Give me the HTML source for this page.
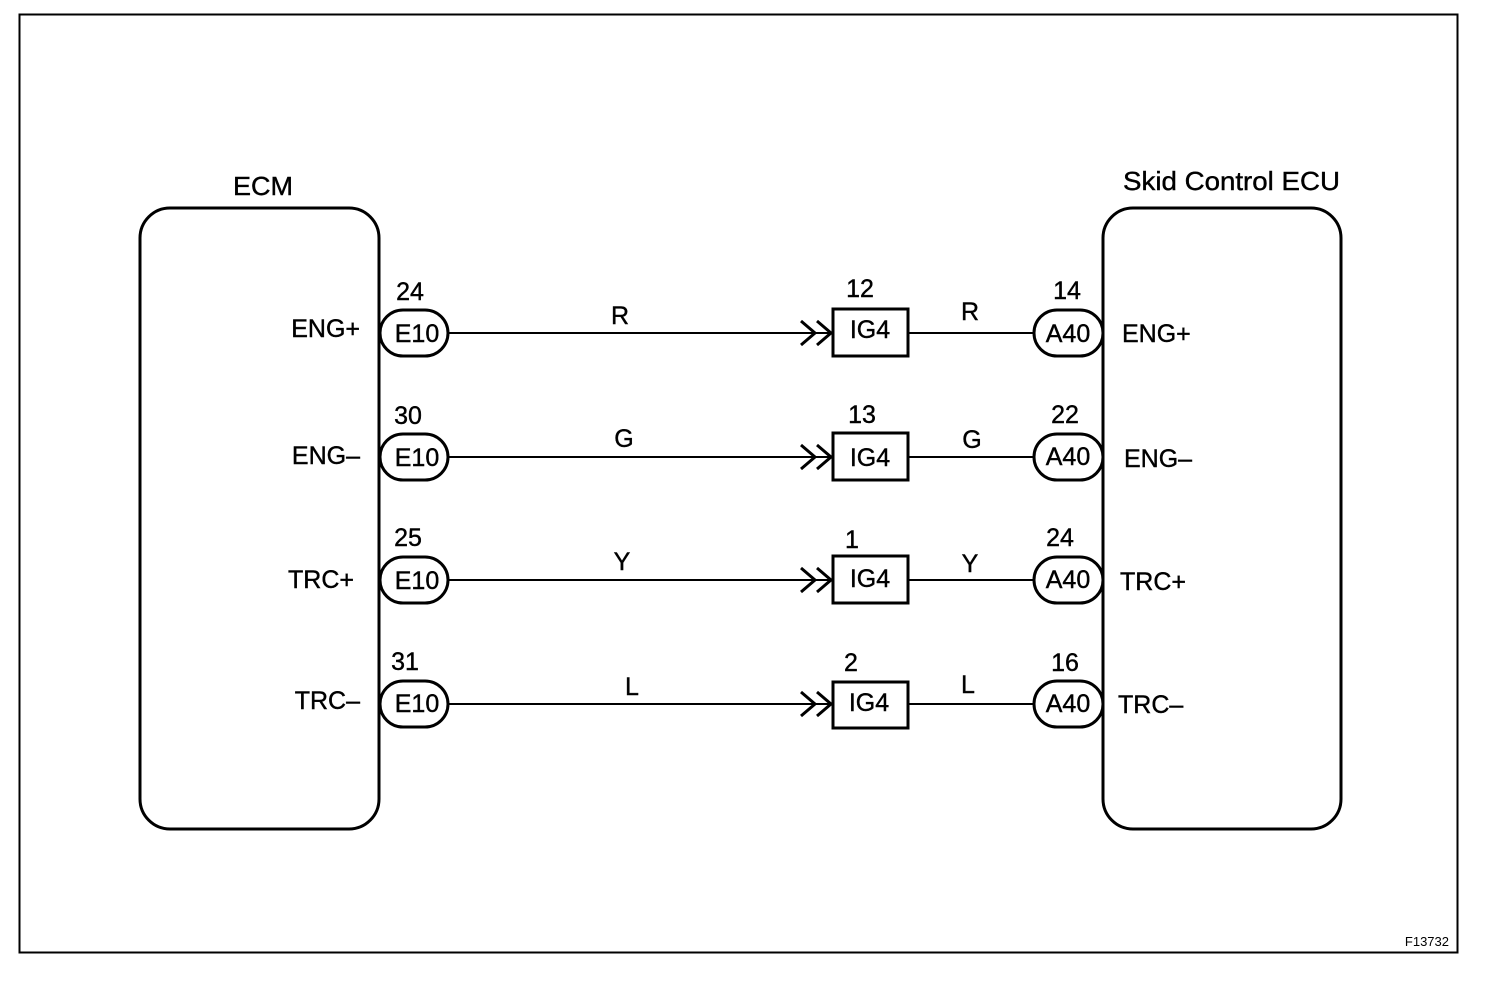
<!DOCTYPE html>
<html><head><style>
html,body{margin:0;padding:0;background:#fff;}
svg{display:block;}
text{font-family:"Liberation Sans",Arial,sans-serif;fill:#000;stroke:#000;stroke-width:0.4;}
</style></head><body>
<svg width="1504" height="994" viewBox="0 0 1504 994" xmlns="http://www.w3.org/2000/svg">
<rect x="19.5" y="14.5" width="1438" height="938" fill="none" stroke="#000" stroke-width="2"/>
<rect x="140" y="208" width="239" height="621" rx="30" ry="30" fill="none" stroke="#000" stroke-width="3"/>
<rect x="1103" y="208" width="238" height="621" rx="30" ry="30" fill="none" stroke="#000" stroke-width="3"/>
<text x="233" y="195" font-size="26" textLength="60" lengthAdjust="spacingAndGlyphs">ECM</text>
<text x="1123" y="190" font-size="26" textLength="217" lengthAdjust="spacingAndGlyphs">Skid Control ECU</text>
<text x="1449" y="946" font-size="13" text-anchor="end" style="stroke-width:0">F13732</text>

<g font-size="25">
<g transform="translate(0,333)">
<line x1="449" y1="0" x2="830" y2="0" stroke="#000" stroke-width="2"/>
<polyline points="801,-12 815,0 801,12" fill="none" stroke="#000" stroke-width="3"/>
<polyline points="817,-12 831,0 817,12" fill="none" stroke="#000" stroke-width="3"/>
<line x1="908" y1="0" x2="1034" y2="0" stroke="#000" stroke-width="2"/>
<rect x="380" y="-23" width="68" height="46" rx="23" fill="#fff" stroke="#000" stroke-width="3"/>
<rect x="833" y="-24" width="75" height="47" fill="#fff" stroke="#000" stroke-width="3"/>
<rect x="1034" y="-23" width="69" height="46" rx="23" fill="#fff" stroke="#000" stroke-width="3"/>
<text x="417" y="9" text-anchor="middle">E10</text>
<text x="870" y="5" text-anchor="middle">IG4</text>
<text x="1068" y="9" text-anchor="middle">A40</text>
<text x="410" y="-33" text-anchor="middle">24</text>
<text x="860" y="-36" text-anchor="middle">12</text>
<text x="1067" y="-34" text-anchor="middle">14</text>
<text x="620" y="-9" text-anchor="middle">R</text>
<text x="970" y="-13" text-anchor="middle">R</text>
<text x="360" y="4" text-anchor="end">ENG+</text>
<text x="1122" y="9">ENG+</text>
</g>
<g transform="translate(0,457)">
<line x1="449" y1="0" x2="830" y2="0" stroke="#000" stroke-width="2"/>
<polyline points="801,-12 815,0 801,12" fill="none" stroke="#000" stroke-width="3"/>
<polyline points="817,-12 831,0 817,12" fill="none" stroke="#000" stroke-width="3"/>
<line x1="908" y1="0" x2="1034" y2="0" stroke="#000" stroke-width="2"/>
<rect x="380" y="-23" width="68" height="46" rx="23" fill="#fff" stroke="#000" stroke-width="3"/>
<rect x="833" y="-24" width="75" height="47" fill="#fff" stroke="#000" stroke-width="3"/>
<rect x="1034" y="-23" width="69" height="46" rx="23" fill="#fff" stroke="#000" stroke-width="3"/>
<text x="417" y="9" text-anchor="middle">E10</text>
<text x="870" y="9" text-anchor="middle">IG4</text>
<text x="1068" y="8" text-anchor="middle">A40</text>
<text x="408" y="-33" text-anchor="middle">30</text>
<text x="862" y="-34" text-anchor="middle">13</text>
<text x="1065" y="-34" text-anchor="middle">22</text>
<text x="624" y="-10" text-anchor="middle">G</text>
<text x="972" y="-9" text-anchor="middle">G</text>
<text x="360" y="7" text-anchor="end">ENG–</text>
<text x="1124" y="10">ENG–</text>
</g>
<g transform="translate(0,580)">
<line x1="449" y1="0" x2="830" y2="0" stroke="#000" stroke-width="2"/>
<polyline points="801,-12 815,0 801,12" fill="none" stroke="#000" stroke-width="3"/>
<polyline points="817,-12 831,0 817,12" fill="none" stroke="#000" stroke-width="3"/>
<line x1="908" y1="0" x2="1034" y2="0" stroke="#000" stroke-width="2"/>
<rect x="380" y="-23" width="68" height="46" rx="23" fill="#fff" stroke="#000" stroke-width="3"/>
<rect x="833" y="-24" width="75" height="47" fill="#fff" stroke="#000" stroke-width="3"/>
<rect x="1034" y="-23" width="69" height="46" rx="23" fill="#fff" stroke="#000" stroke-width="3"/>
<text x="417" y="9" text-anchor="middle">E10</text>
<text x="870" y="7" text-anchor="middle">IG4</text>
<text x="1068" y="8" text-anchor="middle">A40</text>
<text x="408" y="-34" text-anchor="middle">25</text>
<text x="852" y="-32" text-anchor="middle">1</text>
<text x="1060" y="-34" text-anchor="middle">24</text>
<text x="622" y="-10" text-anchor="middle">Y</text>
<text x="970" y="-8" text-anchor="middle">Y</text>
<text x="354" y="8" text-anchor="end">TRC+</text>
<text x="1120" y="10">TRC+</text>
</g>
<g transform="translate(0,704)">
<line x1="449" y1="0" x2="830" y2="0" stroke="#000" stroke-width="2"/>
<polyline points="801,-12 815,0 801,12" fill="none" stroke="#000" stroke-width="3"/>
<polyline points="817,-12 831,0 817,12" fill="none" stroke="#000" stroke-width="3"/>
<line x1="908" y1="0" x2="1034" y2="0" stroke="#000" stroke-width="2"/>
<rect x="380" y="-23" width="68" height="46" rx="23" fill="#fff" stroke="#000" stroke-width="3"/>
<rect x="833" y="-22" width="75" height="46" fill="#fff" stroke="#000" stroke-width="3"/>
<rect x="1034" y="-23" width="69" height="46" rx="23" fill="#fff" stroke="#000" stroke-width="3"/>
<text x="417" y="8" text-anchor="middle">E10</text>
<text x="869" y="7" text-anchor="middle">IG4</text>
<text x="1068" y="8" text-anchor="middle">A40</text>
<text x="405" y="-34" text-anchor="middle">31</text>
<text x="851" y="-33" text-anchor="middle">2</text>
<text x="1065" y="-33" text-anchor="middle">16</text>
<text x="632" y="-9" text-anchor="middle">L</text>
<text x="968" y="-11" text-anchor="middle">L</text>
<text x="360" y="5" text-anchor="end">TRC–</text>
<text x="1118" y="9">TRC–</text>
</g>
</g>
</svg>
</body></html>
